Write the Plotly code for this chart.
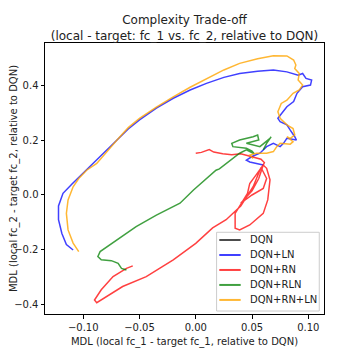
import plotly.graph_objects as go

# DQN is the baseline, so relative to itself it collapses to the origin
dqn_x = [0.0, 0.0]
dqn_y = [0.0, 0.0]

ln_x = [0.060, 0.054, 0.048, 0.045, 0.050, 0.057, 0.063, 0.069, 0.075, 0.078, 0.081, 0.0895,
        0.088, 0.084, 0.081, 0.075, 0.073, 0.077, 0.081, 0.087, 0.090, 0.095, 0.102, 0.103,
        0.098, 0.095, 0.091, 0.081, 0.069, 0.055, 0.039, 0.025, 0.0095, -0.005, -0.020, -0.035,
        -0.050, -0.060, -0.070, -0.083, -0.094, -0.100, -0.110, -0.118, -0.122, -0.122, -0.119,
        -0.115, -0.109]
ln_y = [0.109, 0.115, 0.120, 0.127, 0.140, 0.152, 0.176, 0.188, 0.176, 0.188, 0.206, 0.200,
        0.212, 0.236, 0.255, 0.267, 0.279, 0.300, 0.321, 0.340, 0.370, 0.394, 0.400, 0.418,
        0.424, 0.442, 0.436, 0.448, 0.455, 0.450, 0.442, 0.428, 0.406, 0.382, 0.352, 0.316,
        0.273, 0.240, 0.200, 0.150, 0.103, 0.080, 0.040, 0.006, -0.040, -0.090, -0.140,
        -0.180, -0.200]

rn_x = [0.000, 0.005, 0.012, 0.016, 0.024, 0.032, 0.040, 0.050, 0.058, 0.061, 0.060, 0.054,
        0.048, 0.046, 0.035, 0.035, 0.039, 0.048, 0.060, 0.064, 0.066, 0.063, 0.060, 0.056,
        0.050, 0.040, 0.050, 0.060, 0.063, 0.058, 0.051, 0.040, 0.027, 0.015, 0.000, -0.020,
        -0.044, -0.065, -0.079, -0.088, -0.090, -0.084, -0.0735, -0.0616, -0.056]
rn_y = [0.152, 0.155, 0.165, 0.156, 0.150, 0.146, 0.150, 0.140, 0.130, 0.118, 0.109, 0.075,
        0.042, 0.006, -0.067, -0.121, -0.127, -0.109, -0.067, -0.018, 0.055, 0.097, 0.109, 0.060,
        0.015, -0.030, 0.000, 0.024, 0.060, 0.100, 0.030, -0.040, -0.090, -0.120, -0.176, -0.236,
        -0.297, -0.333, -0.370, -0.392, -0.382, -0.345, -0.297, -0.267, -0.258]

rln_x = [0.060, 0.063, 0.067, 0.066, 0.057, 0.045, 0.056, 0.055, 0.051, 0.039, 0.032, 0.033,
         0.045, 0.050, 0.052, 0.045, 0.039, 0.021, 0.018, -0.002, -0.014, -0.035, -0.053,
         -0.0676, -0.078, -0.085, -0.087, -0.084, -0.075, -0.069, -0.066, -0.0616]
rln_y = [0.164, 0.188, 0.212, 0.206, 0.176, 0.188, 0.200, 0.218, 0.212, 0.200, 0.188, 0.176,
         0.170, 0.160, 0.150, 0.164, 0.152, 0.095, 0.090, 0.018, -0.030, -0.073, -0.115,
         -0.158, -0.188, -0.206, -0.224, -0.236, -0.239, -0.249, -0.267, -0.273]

rnln_x = [0.051, 0.048, 0.054, 0.063, 0.069, 0.072, 0.075, 0.084, 0.0865, 0.081, 0.084, 0.088,
          0.0865, 0.081, 0.075, 0.073, 0.076, 0.081, 0.0865, 0.092, 0.095, 0.091, 0.092, 0.088,
          0.089, 0.087, 0.081, 0.069, 0.055, 0.039, 0.025, 0.0095, -0.005, -0.020, -0.035,
          -0.050, -0.060, -0.070, -0.080, -0.088, -0.097, -0.104, -0.109, -0.1135, -0.115,
          -0.1135, -0.109, -0.104]
rnln_y = [0.133, 0.145, 0.152, 0.152, 0.158, 0.176, 0.188, 0.185, 0.194, 0.212, 0.206, 0.218,
          0.242, 0.255, 0.279, 0.303, 0.333, 0.345, 0.370, 0.382, 0.400, 0.418, 0.442, 0.460,
          0.473, 0.491, 0.506, 0.507, 0.496, 0.479, 0.455, 0.424, 0.392, 0.357, 0.320,
          0.279, 0.245, 0.200, 0.155, 0.115, 0.090, 0.060, 0.030, -0.018, -0.067,
          -0.127, -0.175, -0.206]

series = [
    ("DQN", dqn_x, dqn_y, "rgba(0,0,0,0.7)"),
    ("DQN+LN", ln_x, ln_y, "rgba(0,0,255,0.75)"),
    ("DQN+RN", rn_x, rn_y, "rgba(255,0,0,0.75)"),
    ("DQN+RLN", rln_x, rln_y, "rgba(0,128,0,0.75)"),
    ("DQN+RN+LN", rnln_x, rnln_y, "rgba(255,165,0,0.8)"),
]

fig = go.Figure()
for name, xs, ys, col in series:
    fig.add_trace(go.Scatter(x=xs, y=ys, mode="lines", name=name,
                             line=dict(color=col, width=1.5), showlegend=False))

# matplotlib-like legend box (plotly's own legend rows are too tall here)
fig.add_shape(type="rect", xref="paper", yref="paper", x0=0.615, x1=0.983, y0=0.011, y1=0.3015,
              line=dict(color="#cccccc", width=1), fillcolor="rgba(255,255,255,0.8)", layer="above")
row_y = 0.2731
for name, xs, ys, col in series:
    fig.add_shape(type="line", xref="paper", yref="paper", x0=0.6247, x1=0.7014,
                  y0=row_y, y1=row_y, line=dict(color=col, width=2), layer="above")
    fig.add_annotation(text=name, xref="paper", yref="paper", x=0.7287, y=row_y,
                       xanchor="left", yanchor="middle", showarrow=False,
                       font=dict(size=10, color="#222"))
    row_y -= 0.0553

axis_style = dict(showline=True, mirror=True, linecolor="black", linewidth=1,
                  ticks="outside", ticklen=3.5, tickcolor="black", automargin=False,
                  showgrid=False, zeroline=False, tickfont=dict(size=10, color="#222"))

# page body adds an 8px offset, margins account for it
fig.update_layout(
    width=360, height=360,
    margin=dict(l=37, r=44, t=35, b=54),
    paper_bgcolor="white", plot_bgcolor="white",
    font=dict(family="DejaVu Sans", size=10, color="#222"),
    title=dict(text="Complexity Trade-off<br>(local - target: fc_1 vs. fc_2, relative to DQN)",
               x=0.5, xref="paper", xanchor="center", y=0.955, yanchor="top",
               font=dict(size=12)),
    xaxis=dict(range=[-0.134, 0.114], dtick=0.05, tick0=0, tickformat=".2f",
               title=dict(text="MDL (local fc_1 - target fc_1, relative to DQN)",
                          font=dict(size=10), standoff=6), **axis_style),
    yaxis=dict(range=[-0.433, 0.553], dtick=0.2, tick0=0, tickformat=".1f",
               title=dict(text="MDL (local fc_2 - target fc_2, relative to DQN)",
                          font=dict(size=10), standoff=4), **axis_style),
)

fig.write_html("out.html")
